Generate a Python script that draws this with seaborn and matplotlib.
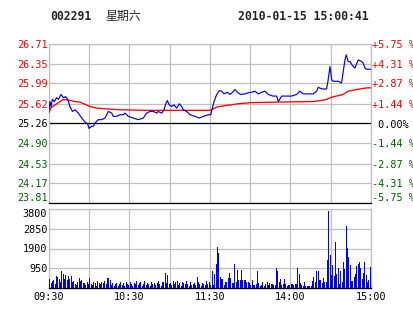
import matplotlib
matplotlib.use("Agg")
import numpy as np
import pandas as pd
import matplotlib.pyplot as plt
import seaborn as sns

# ---------------- data ----------------
title_code = "002291"
title_day = "星期六"
title_time = "2010-01-15 15:00:41"

prev_close = 25.26
price_ticks = [23.81, 24.17, 24.53, 24.90, 25.26, 25.62, 25.99, 26.35, 26.71]
pct_labels = ["-5.75 %", "-4.31 %", "-2.87 %", "-1.44 %", " 0.00%",
              "+1.44 %", "+2.87 %", "+4.31 %", "+5.75 %"]
time_ticks = [0, 30, 60, 90, 120, 150, 180, 210, 240]
time_labels = ["09:30", "", "10:30", "", "11:30", "", "14:00", "", "15:00"]
vol_ticks = [950, 1900, 2850, 3800]

price_min = [0, 0.75, 1.5, 2.5, 4, 5.7, 7, 9, 10.7, 12.4, 14, 15.6, 17.4, 19.4,
             21.8, 24.4, 26.3, 28.8, 29.8, 31.8, 33.2, 34.3, 36.7, 39.3, 41.7,
             43, 44.2, 46.7, 47.9, 50.4, 52.9, 55.4, 56.6, 59.1, 62.8, 66.5,
             70.3, 72.8, 75.3, 77.7, 80.3, 81.4, 84, 85.7, 87.2, 88.2, 89.6,
             91.4, 93.1, 95.2, 97.1, 98.9, 100.1, 102.6, 105.1, 108.8, 112,
             115, 118.7, 120.5, 122, 123, 125, 126.9, 128.7, 130.4, 132.9,
             134.9, 136.9, 138.6, 140.3, 142.8, 146, 148.5, 151, 153.5, 156,
             158.5, 161, 163.4, 166.9, 169.7, 170.9, 173.4, 177.1, 180.8,
             184.6, 187, 189.5, 193.2, 197, 199.5, 200.7, 203.4, 206.9, 208.1,
             209.4, 210.7, 211.8, 215.6, 218.1, 219.3, 220.6, 221.5, 223,
             224.3, 225.8, 228, 230.5, 233, 234.2, 235.5, 236.7, 240]
price = [25.51, 25.66, 25.57, 25.70, 25.66, 25.73, 25.70, 25.79, 25.73, 25.75,
         25.70, 25.57, 25.48, 25.51, 25.45, 25.36, 25.30, 25.25, 25.17, 25.21,
         25.21, 25.27, 25.33, 25.33, 25.36, 25.42, 25.48, 25.45, 25.39, 25.39,
         25.42, 25.42, 25.45, 25.39, 25.36, 25.33, 25.36, 25.45, 25.48, 25.48,
         25.45, 25.48, 25.45, 25.51, 25.63, 25.68, 25.60, 25.57, 25.60, 25.54,
         25.62, 25.57, 25.51, 25.48, 25.42, 25.39, 25.36, 25.39, 25.42, 25.42,
         25.57, 25.66, 25.79, 25.86, 25.85, 25.80, 25.83, 25.79, 25.83, 25.88,
         25.83, 25.79, 25.80, 25.82, 25.83, 25.85, 25.80, 25.83, 25.85, 25.79,
         25.76, 25.76, 25.66, 25.76, 25.76, 25.76, 25.79, 25.85, 25.80, 25.80,
         25.80, 25.85, 25.92, 25.89, 25.89, 26.06, 26.30, 26.06, 26.03, 26.03,
         26.00, 26.21, 26.42, 26.51, 26.39, 26.39, 26.33, 26.27, 26.42, 26.39,
         26.36, 26.27, 26.25, 26.25]

avg_min = [0, 1.5, 4.5, 8.2, 10.7, 15.6, 19.4, 23.1, 26.8, 30.5, 35.8, 40.5,
           52.9, 72.8, 87.7, 120, 122, 125, 132.4, 141, 149.8, 169.7, 197,
           202.7, 206.9, 210.7, 219.3, 223, 229.3, 236.7, 240]
avg_price = [25.46, 25.55, 25.60, 25.66, 25.70, 25.68, 25.66, 25.65, 25.61,
             25.57, 25.54, 25.53, 25.51, 25.50, 25.50, 25.50, 25.52, 25.56,
             25.59, 25.62, 25.64, 25.65, 25.66, 25.68, 25.70, 25.74, 25.79,
             25.85, 25.88, 25.91, 25.91]

vol_min = list(range(240))
volume = [
    # 09:30 - 10:30
    420, 250, 330, 380, 200, 560, 520, 430, 300, 820,
    680, 450, 640, 380, 560, 420, 600, 300, 350, 200,
    150, 280, 470, 330, 400, 220, 260, 150, 300, 180,
    470, 200, 150, 280, 220, 120, 330, 250, 180, 300,
    260, 350, 200, 470, 500, 380, 150, 220, 100, 180,
    250, 120, 200, 300, 150, 220, 100, 280, 180, 150,
    # 10:30 - 11:30
    300, 200, 120, 250, 180, 330, 150, 220, 280, 120,
    200, 350, 150, 250, 180, 120, 300, 200, 260, 150,
    220, 350, 180, 120, 280, 300, 720, 250, 620, 180,
    250, 150, 330, 200, 280, 350, 150, 220, 120, 300,
    250, 180, 350, 200, 120, 280, 150, 200, 250, 150,
    540, 300, 180, 120, 250, 200, 150, 330, 200, 280,
    # 13:00 - 14:00
    150, 820, 150, 680, 1160, 1980, 1690, 530, 440, 440,
    150, 280, 280, 500, 710, 480, 250, 250, 1160, 300,
    870, 400, 400, 870, 400, 400, 400, 280, 280, 230,
    150, 400, 150, 150, 200, 820, 230, 80, 150, 300,
    120, 180, 300, 150, 250, 180, 180, 150, 150, 950,
    820, 300, 450, 150, 180, 450, 180, 80, 150, 150,
    # 14:00 - 15:00
    180, 180, 150, 180, 180, 950, 680, 230, 150, 80,
    280, 80, 120, 120, 120, 120, 350, 550, 280, 820,
    800, 400, 400, 230, 500, 280, 280, 1360, 3700, 1600,
    620, 1110, 580, 2220, 680, 950, 200, 820, 300, 1240,
    920, 2990, 1920, 1480, 1110, 350, 350, 530, 660, 1060,
    1160, 1240, 950, 440, 710, 1270, 640, 280, 390, 1010,
]

# ---------------- style ----------------
sns.set_theme(style="white")
plt.rcParams["font.family"] = ["DejaVu Sans Mono", "Noto Sans CJK SC"]

RED = "#ff0000"
GREEN = "#006400"
GRID = "#c0c0c0"
FS = 7.3

fig = plt.figure(figsize=(4.14, 3.14), dpi=100)
fig.patch.set_facecolor("white")
ax = fig.add_axes([49 / 414, 1 - 203 / 314, 322 / 414, 159 / 314])
axv = fig.add_axes([49 / 414, 1 - 288 / 314, 322 / 414, 79 / 314])

# ---------------- price panel ----------------
df_p = pd.DataFrame({"t": price_min, "p": price})
df_a = pd.DataFrame({"t": avg_min, "p": avg_price})
sns.lineplot(data=df_p, x="t", y="p", ax=ax, color="#0000ff", lw=0.85,
             estimator=None, sort=False, zorder=4)
sns.lineplot(data=df_a, x="t", y="p", ax=ax, color=RED, lw=0.95,
             estimator=None, sort=False, zorder=3)
ax.set_xlim(0, 240)
ax.set_ylim(price_ticks[0], price_ticks[-1])
ax.set_xticks(time_ticks)
ax.set_xticklabels([])
ax.set_yticks(price_ticks)
ax.set_yticklabels([f"{v:.2f}" for v in price_ticks])
ax.grid(True, color=GRID, lw=0.9)
ax.axhline(prev_close, color="black", lw=0.9, zorder=2)
ax.set_xlabel("")
ax.set_ylabel("")
ax.tick_params(axis="both", length=0)
ax.tick_params(axis="y", pad=1.2, labelsize=FS)


def color_labels(labels):
    for lab, v in zip(labels, price_ticks):
        if v > prev_close + 1e-6:
            lab.set_color(RED)
        elif v < prev_close - 1e-6:
            lab.set_color(GREEN)
        else:
            lab.set_color("black")


color_labels(ax.get_yticklabels())
ax.get_yticklabels()[0].set_verticalalignment("bottom")
for s in ["top", "left", "right"]:
    ax.spines[s].set_color(GRID)
    ax.spines[s].set_linewidth(0.9)
ax.spines["bottom"].set_color("black")
ax.spines["bottom"].set_linewidth(0.9)

ax2 = ax.twinx()
ax2.set_ylim(price_ticks[0], price_ticks[-1])
ax2.set_yticks(price_ticks)
ax2.set_yticklabels(pct_labels)
ax2.tick_params(axis="y", length=0, pad=0.6, labelsize=FS)
color_labels(ax2.get_yticklabels())
ax2.get_yticklabels()[0].set_verticalalignment("bottom")
for s in ax2.spines.values():
    s.set_visible(False)
ax2.grid(False)

# ---------------- volume panel ----------------
df_v = pd.DataFrame({"t": np.array(vol_min) + 0.5, "v": volume})
sns.barplot(data=df_v, x="t", y="v", ax=axv, native_scale=True,
            color="#0000ff", saturation=1, width=0.75, errorbar=None,
            linewidth=0, zorder=3)
for p in axv.patches:
    p.set_antialiased(False)
axv.set_xlim(0, 240)
axv.set_ylim(0, 3800)
axv.set_xticks(time_ticks)
axv.set_xticklabels(time_labels)
axv.set_yticks(vol_ticks)
axv.set_yticklabels([str(v) for v in vol_ticks])
axv.grid(True, color=GRID, lw=0.9, zorder=0)
axv.set_axisbelow(True)
axv.set_xlabel("")
axv.set_ylabel("")
axv.tick_params(axis="both", length=0, labelsize=FS, colors="black")
axv.tick_params(axis="y", pad=1.2)
axv.tick_params(axis="x", pad=3.2)
axv.get_yticklabels()[-1].set_verticalalignment("top")
for s in ["top", "left", "right"]:
    axv.spines[s].set_color(GRID)
    axv.spines[s].set_linewidth(0.9)
axv.spines["bottom"].set_color("black")
axv.spines["bottom"].set_linewidth(1.0)

# ---------------- header ----------------
fig.text(50 / 414, 1 - 16.5 / 314, title_code, fontsize=8.3,
         fontweight="bold", family="DejaVu Sans Mono", va="center", ha="left")
fig.text(105 / 414, 1 - 16.5 / 314, title_day, fontsize=8.6,
         family=["Noto Sans CJK SC", "DejaVu Sans"], va="center", ha="left")
fig.text(369 / 414, 1 - 16.5 / 314, title_time, fontsize=8.3,
         fontweight="bold", family="DejaVu Sans Mono", va="center", ha="right")

fig.savefig("out.png", dpi=100, facecolor="white")
